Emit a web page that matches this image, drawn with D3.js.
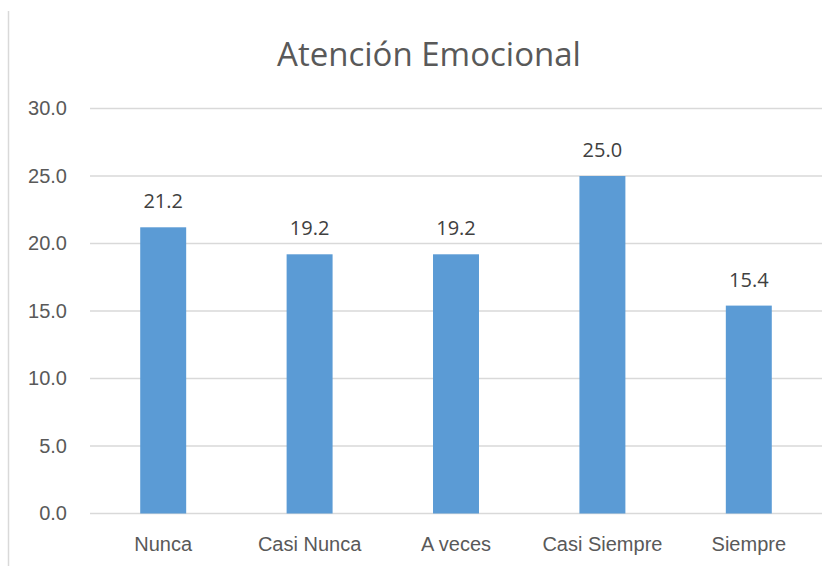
<!DOCTYPE html>
<html>
<head>
<meta charset="utf-8">
<script src="https://cdn.jsdelivr.net/npm/d3@7"></script>
<style>
    body { margin: 0; background: #fff; }
    svg { display: block; font-family: "Open Sans", "Noto Sans", sans-serif; }
</style>
</head>
<body>
<svg id="chart" width="837" height="566"></svg>
<script>
const categories = ["Nunca", "Casi Nunca", "A veces", "Casi Siempre", "Siempre"];
const values = [21.2, 19.2, 19.2, 25.0, 15.4];
const yTicks = [0, 5, 10, 15, 20, 25, 30];
const title = "Atención Emocional";

const PLOT = {left: 90, right: 822, top: 108.5, bottom: 513.5};

let svg = d3.select("#chart");

// outer frame edge (only left side visible in the original)
svg.append("line")
    .attr("x1", 8.5).attr("x2", 8.5)
    .attr("y1", 11).attr("y2", 566)
    .attr("stroke", "#d9d9d9")
    .attr("stroke-width", 1.5);

let x = d3.scaleBand()
    .domain(categories)
    .range([PLOT.left, PLOT.right])
    .paddingInner(0.686)
    .paddingOuter(0.343);

let y = d3.scaleLinear()
    .domain([0, 30])
    .range([PLOT.bottom, PLOT.top]);

// gridlines
svg.append("g")
    .attr("class", "grid")
    .selectAll("line")
    .data(yTicks)
    .join("line")
        .attr("x1", PLOT.left)
        .attr("x2", PLOT.right)
        .attr("y1", d => y(d))
        .attr("y2", d => y(d))
        .attr("stroke", "#d9d9d9")
        .attr("stroke-width", 1.5);

// y axis labels
let yAxis = d3.axisLeft(y)
    .tickValues(yTicks)
    .tickFormat(d3.format(".1f"))
    .tickSize(0)
    .tickPadding(23);

let yg = svg.append("g")
    .attr("transform", `translate(${PLOT.left},0)`)
    .call(yAxis);
yg.select(".domain").remove();
yg.selectAll(".tick text")
    .attr("fill", "#595959")
    .style("font-size", "20px")
    .style("font-family", "inherit");

// x axis labels
let xAxis = d3.axisBottom(x).tickSize(0).tickPadding(23);
let xg = svg.append("g")
    .attr("transform", `translate(0,${PLOT.bottom})`)
    .call(xAxis);
xg.select(".domain").remove();
xg.selectAll(".tick text")
    .attr("fill", "#595959")
    .style("font-size", "20px")
    .style("font-family", "inherit");

// bars
svg.append("g")
    .selectAll("rect")
    .data(values)
    .join("rect")
        .attr("x", (d, i) => x(categories[i]))
        .attr("y", d => y(d))
        .attr("width", x.bandwidth())
        .attr("height", d => y(0) - y(d))
        .attr("fill", "#5b9bd5");

// value labels
svg.append("g")
    .selectAll("text")
    .data(values)
    .join("text")
        .attr("x", (d, i) => x(categories[i]) + x.bandwidth() / 2)
        .attr("y", d => y(d) - 19)
        .attr("text-anchor", "middle")
        .attr("fill", "#404040")
        .style("font-size", "20px")
        .text(d => d3.format(".1f")(d));

// title
svg.append("text")
    .attr("x", 429)
    .attr("y", 66)
    .attr("text-anchor", "middle")
    .attr("fill", "#595959")
    .style("font-size", "33px")
    .text(title);
</script>
</body>
</html>
